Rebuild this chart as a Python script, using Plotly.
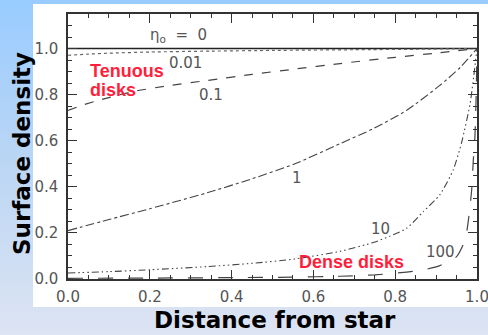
import plotly.graph_objects as go

# ---- data ----
eta_labels = ["0", "0.01", "0.1", "1", "10", "100"]

x_eta0 = [0.0, 1.0]
y_eta0 = [1.0, 1.0]

x_eta001 = [0.0, 0.05, 0.1, 0.2, 0.35, 0.5, 0.7, 0.85, 1.0]
y_eta001 = [0.971, 0.976, 0.980, 0.985, 0.989, 0.992, 0.995, 0.997, 1.0]

x_eta01 = [0.0, 0.04, 0.08, 0.163, 0.25, 0.342, 0.45, 0.55, 0.665, 0.8, 0.909, 1.0]
y_eta01 = [0.732, 0.757, 0.778, 0.815, 0.840, 0.862, 0.888, 0.910, 0.935, 0.962, 0.982, 1.0]

x_eta1 = [0.0, 0.1, 0.2, 0.342, 0.45, 0.555, 0.665, 0.746, 0.828, 0.909, 0.96, 1.0]
y_eta1 = [0.21, 0.258, 0.305, 0.375, 0.435, 0.50, 0.587, 0.652, 0.732, 0.84, 0.92, 1.0]

x_eta10 = [0.0, 0.1, 0.2, 0.342, 0.45, 0.555, 0.665, 0.746, 0.787, 0.828, 0.869, 0.909, 0.942, 0.962, 0.983, 1.0]
y_eta10 = [0.026, 0.032, 0.040, 0.054, 0.068, 0.087, 0.120, 0.158, 0.186, 0.220, 0.293, 0.365, 0.474, 0.590, 0.760, 1.0]

x_eta100 = [0.0, 0.2, 0.4, 0.55, 0.665, 0.75, 0.828, 0.87, 0.909, 0.95, 0.971, 0.979, 0.987, 0.991, 0.995, 0.998, 1.0]
y_eta100 = [0.003, 0.004, 0.006, 0.008, 0.012, 0.018, 0.030, 0.040, 0.058, 0.097, 0.170, 0.256, 0.387, 0.517, 0.620, 0.800, 1.0]

x_ticks = [0.0, 0.2, 0.4, 0.6, 0.8, 1.0]
y_ticks = [0.0, 0.2, 0.4, 0.6, 0.8, 1.0]

W, H = 488, 335
fig = go.Figure()

# background gradient + white panel (decoration, in a pixel-space helper subplot)
fig.add_trace(go.Scatter(
    x=[0, W, W, 0, 0], y=[0, 0, H, H, 0], mode="lines", line=dict(width=0),
    fill="toself",
    fillgradient=dict(type="vertical", colorscale=[[0, "#dde4f3"], [0.5, "#bcd6f4"], [1, "#99ccff"]],
                      start=0, stop=H),
    hoverinfo="skip", showlegend=False, xaxis="x", yaxis="y"))
fig.add_trace(go.Scatter(
    x=[33, W, W, 33, 33], y=[H - 307, H - 307, H - 4, H - 4, H - 307], mode="lines",
    line=dict(width=0), fill="toself", fillcolor="white",
    hoverinfo="skip", showlegend=False, xaxis="x", yaxis="y"))

curves = [
    (x_eta0, y_eta0, "solid", 1.4, "#222"),
    (x_eta001, y_eta001, "dot", 1.2, "#666"),
    (x_eta01, y_eta01, "dash", 1.2, "#444"),
    (x_eta1, y_eta1, "dashdot", 1.1, "#444"),
    (x_eta10, y_eta10, "7px,3px,1.5px,3px,1.5px,3px,1.5px,3px", 1.1, "#444"),
    (x_eta100, y_eta100, "longdash", 1.2, "#444"),
]
for (xs, ys, dash, w, c), name in zip(curves, eta_labels):
    fig.add_trace(go.Scatter(x=xs, y=ys, mode="lines", name=name,
                             line=dict(dash=dash, width=w, color=c, shape="spline", smoothing=0.6),
                             showlegend=False, xaxis="x2", yaxis="y2"))

tickfont = dict(family="DejaVu Sans", size=15, color="#555")
axcommon = dict(showline=True, linecolor="#333", linewidth=1.5, mirror="ticks",
                ticks="inside", ticklen=9, tickwidth=1.2, tickcolor="#333",
                showgrid=False, zeroline=False, tickfont=tickfont, tickformat=".1f",
                fixedrange=True, automargin=False, ticklabeloverflow="allow")

fig.update_layout(
    width=W, height=H,
    margin=dict(l=0, r=0, t=0, b=0, pad=0, autoexpand=False),
    paper_bgcolor="white", plot_bgcolor="rgba(0,0,0,0)",
    xaxis=dict(domain=[0, 1], range=[0, W], visible=False, fixedrange=True, automargin=False),
    yaxis=dict(domain=[0, 1], range=[0, H], visible=False, fixedrange=True, automargin=False),
    xaxis2=dict(domain=[68 / W, 477 / W], range=[0, 1], anchor="y2",
                tickvals=x_ticks, ticklabelstandoff=3,
                minor=dict(dtick=0.05, tick0=0, ticks="inside", ticklen=4.5, tickcolor="#333"),
                **axcommon),
    yaxis2=dict(domain=[(H - 279) / H, (H - 14) / H], range=[0, 1.15], anchor="x2",
                tickvals=y_ticks, ticklabelstandoff=5,
                minor=dict(dtick=0.05, tick0=0, ticks="inside", ticklen=4.5, tickcolor="#333"),
                **axcommon),
)

lab = dict(family="DejaVu Sans", size=15, color="#555")
label_pos = {
    "0.01": (0.287, 0.939),
    "0.1": (0.35, 0.80),
    "1": (0.56, 0.44),
    "10": (0.765, 0.217),
    "100": (0.91, 0.116),
}
fig.add_annotation(x=0.27, y=1.055, xref="x2", yref="y2",
                   text="η<sub>o</sub>\u00a0\u00a0=\u00a0\u00a00", showarrow=False, font=lab)
for t, (px, py) in label_pos.items():
    fig.add_annotation(x=px, y=py, xref="x2", yref="y2", text=t, showarrow=False, font=lab)

red = dict(family="Liberation Sans", size=18, color="#ff1f3d", weight="bold")
fig.add_annotation(x=0.05, y=0.904, xref="x2", yref="y2", text="Tenuous", xanchor="left",
                   showarrow=False, font=red)
fig.add_annotation(x=0.05, y=0.822, xref="x2", yref="y2", text="disks", xanchor="left",
                   showarrow=False, font=red)
fig.add_annotation(x=0.694, y=0.075, xref="x2", yref="y2", text="Dense disks",
                   showarrow=False, font=red)

tfont = dict(family="DejaVu Sans", size=23, color="black", weight="bold")
fig.add_annotation(x=275 / W, y=(H - 320) / H, xref="paper", yref="paper",
                   xanchor="center", yanchor="middle",
                   text="Distance from star", showarrow=False, font=tfont)
fig.add_annotation(x=22 / W, y=(H - 154) / H, xref="paper", yref="paper",
                   xanchor="center", yanchor="middle",
                   text="Surface density", textangle=-90, showarrow=False, font=tfont)

fig.write_html("out.html", config={"displayModeBar": False},
               post_script="document.body.style.margin='0';document.body.style.overflow='hidden';")
